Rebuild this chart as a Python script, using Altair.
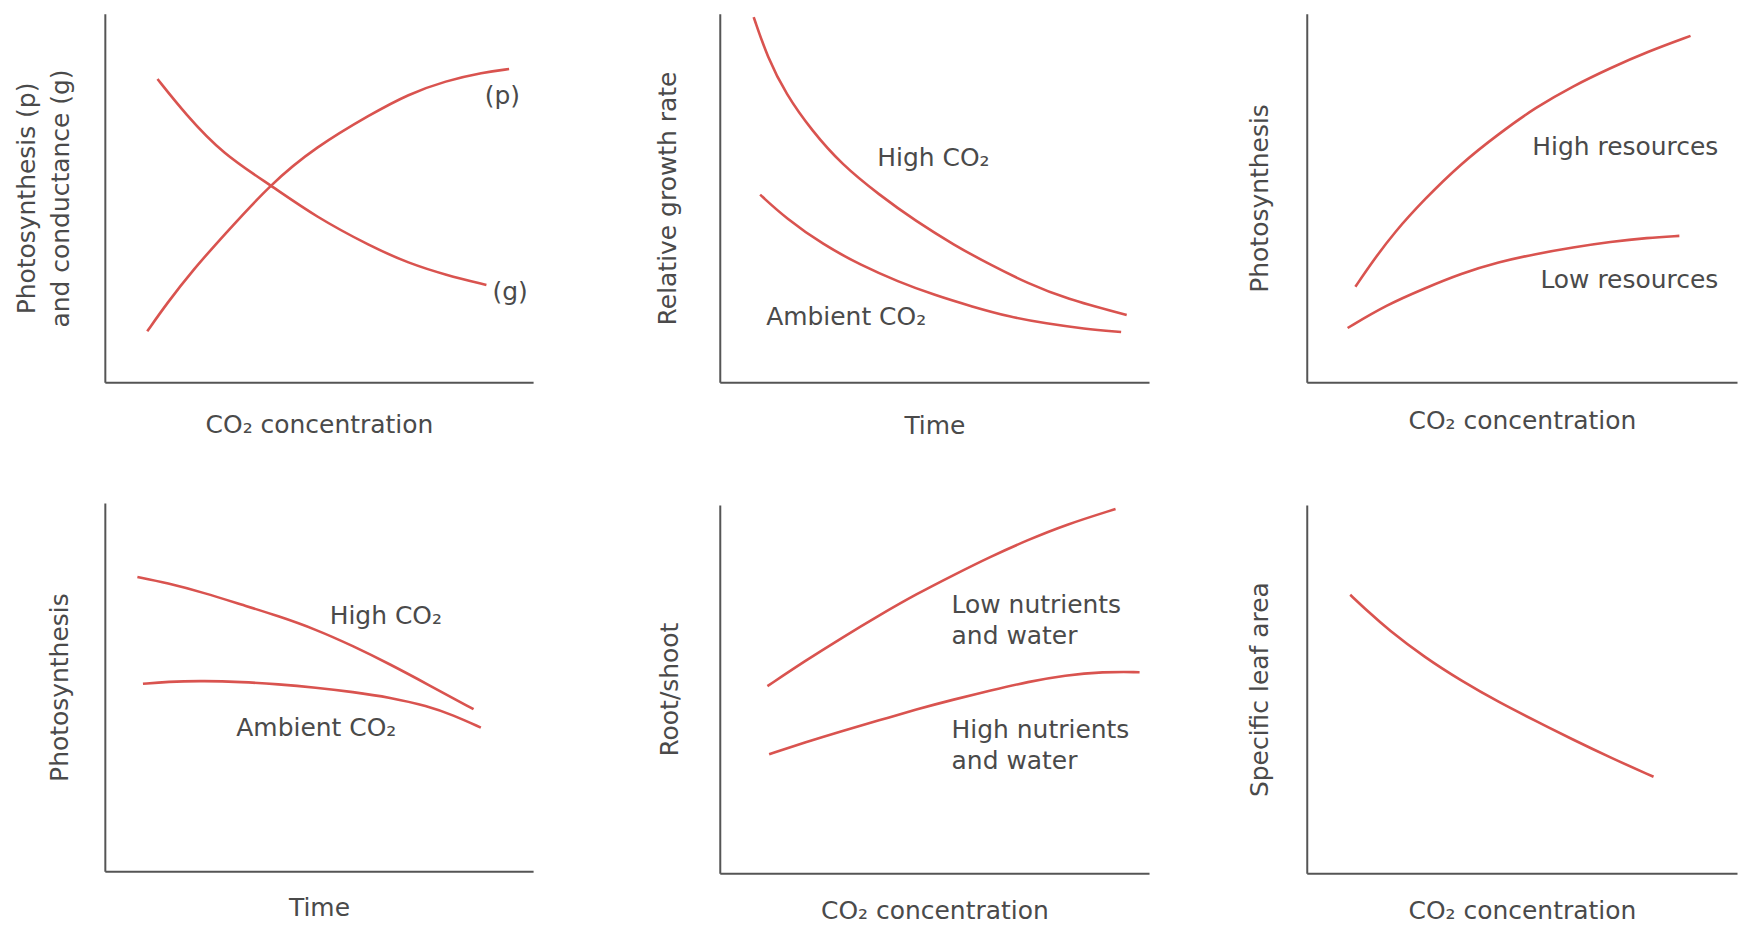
import altair as alt
import pandas as pd

RED = "#d9534f"
TEXT = "#4a4a4a"
AXIS = "#555555"
FONT = "DejaVu Sans"
FS = 25

# ---------------- data (normalised 0..1 within each panel) ----------------
# Panel 1: photosynthesis (p) and conductance (g) vs CO2
p1_p_x = [0.099, 0.145, 0.206, 0.275, 0.388, 0.492, 0.622, 0.709, 0.796, 0.883, 0.944]
p1_p_y = [0.138, 0.214, 0.305, 0.395, 0.539, 0.638, 0.728, 0.782, 0.818, 0.841, 0.850]
p1_g_x = [0.123, 0.188, 0.275, 0.388, 0.492, 0.622, 0.709, 0.796, 0.891]
p1_g_y = [0.823, 0.728, 0.620, 0.534, 0.449, 0.368, 0.323, 0.291, 0.264]

# Panel 2: relative growth rate vs time
p2_hi_x = [0.079, 0.111, 0.154, 0.215, 0.284, 0.371, 0.458, 0.545, 0.631, 0.718, 0.805, 0.948]
p2_hi_y = [0.991, 0.882, 0.782, 0.682, 0.591, 0.509, 0.436, 0.373, 0.318, 0.268, 0.227, 0.182]
p2_am_x = [0.094, 0.154, 0.241, 0.328, 0.415, 0.501, 0.588, 0.675, 0.761, 0.848, 0.935]
p2_am_y = [0.509, 0.445, 0.373, 0.318, 0.273, 0.236, 0.205, 0.177, 0.159, 0.145, 0.136]

# Panel 3: photosynthesis vs CO2 (resources)
p3_hi_x = [0.113, 0.152, 0.203, 0.273, 0.359, 0.446, 0.532, 0.619, 0.706, 0.792, 0.892]
p3_hi_y = [0.259, 0.326, 0.406, 0.496, 0.594, 0.674, 0.746, 0.804, 0.853, 0.897, 0.940]
p3_lo_x = [0.095, 0.186, 0.273, 0.359, 0.446, 0.532, 0.619, 0.706, 0.792, 0.866]
p3_lo_y = [0.147, 0.210, 0.254, 0.295, 0.326, 0.348, 0.366, 0.381, 0.392, 0.397]

# Panel 4: photosynthesis vs time
p4_hi_x = [0.076, 0.145, 0.232, 0.319, 0.405, 0.492, 0.579, 0.666, 0.753, 0.861]
p4_hi_y = [0.799, 0.783, 0.756, 0.724, 0.693, 0.657, 0.612, 0.562, 0.508, 0.440]
p4_am_x = [0.089, 0.145, 0.232, 0.319, 0.405, 0.492, 0.579, 0.666, 0.753, 0.813, 0.878]
p4_am_y = [0.509, 0.515, 0.517, 0.514, 0.508, 0.499, 0.487, 0.472, 0.449, 0.424, 0.390]

# Panel 5: root/shoot vs CO2
p5_lo_x = [0.111, 0.198, 0.284, 0.371, 0.458, 0.545, 0.631, 0.718, 0.805, 0.922]
p5_lo_y = [0.508, 0.576, 0.639, 0.700, 0.758, 0.810, 0.860, 0.905, 0.946, 0.989]
p5_hi_x = [0.115, 0.198, 0.284, 0.371, 0.458, 0.545, 0.631, 0.718, 0.805, 0.892, 0.978]
p5_hi_y = [0.323, 0.355, 0.386, 0.415, 0.445, 0.472, 0.496, 0.520, 0.538, 0.547, 0.546]

# Panel 6: specific leaf area vs CO2
p6_x = [0.101, 0.144, 0.188, 0.274, 0.360, 0.447, 0.533, 0.620, 0.706, 0.806]
p6_y = [0.756, 0.709, 0.663, 0.586, 0.522, 0.464, 0.413, 0.362, 0.314, 0.262]

# Curve labels: (x, y, text)
p1_labels = [(0.887, 0.777, "(p)"), (0.905, 0.246, "(g)")]
p2_labels = [(0.367, 0.609, "High CO₂"), (0.108, 0.177, "Ambient CO₂")]
p3_labels = [(0.524, 0.637, "High resources"), (0.543, 0.277, "Low resources")]
p4_labels = [(0.525, 0.693, "High CO₂"), (0.307, 0.390, "Ambient CO₂")]
p5_labels = [(0.540, 0.729, "Low nutrients\nand water"), (0.540, 0.388, "High nutrients\nand water")]
p6_labels = []

CO2 = "CO₂ concentration"


def series_df(pairs):
    rows = []
    for name, xs, ys in pairs:
        for i, (x, y) in enumerate(zip(xs, ys)):
            rows.append({"series": name, "x": x, "y": y, "i": i})
    return pd.DataFrame(rows)


def panel(pairs, labels, xtitle, ytitle, xpad, ypad, w=429, h=369):
    X = alt.X("x:Q", scale=alt.Scale(domain=[0, 1], nice=False, zero=False),
              axis=alt.Axis(title=xtitle, titlePadding=xpad, ticks=False, labels=False,
                            grid=False, domainColor=AXIS, domainWidth=2,
                            titleFont=FONT, titleFontSize=FS, titleFontWeight="normal",
                            titleColor=TEXT))
    Y = alt.Y("y:Q", scale=alt.Scale(domain=[0, 1], nice=False, zero=False),
              axis=alt.Axis(title=ytitle, titlePadding=ypad, ticks=False, labels=False,
                            grid=False, domainColor=AXIS, domainWidth=2,
                            titleFont=FONT, titleFontSize=FS, titleFontWeight="normal",
                            titleColor=TEXT, titleLineHeight=34))
    lines = alt.Chart(series_df(pairs)).mark_line(
        color=RED, strokeWidth=2.6, interpolate="basis"
    ).encode(x=X, y=Y, detail="series:N", order="i:Q")
    layers = [lines]
    if labels:
        ldf = pd.DataFrame([{"x": a, "y": b, "label": t} for a, b, t in labels])
        txt = alt.Chart(ldf).mark_text(
            align="left", baseline="middle", font=FONT, fontSize=FS, color=TEXT,
            lineBreak="\n", lineHeight=31
        ).encode(x=X, y=Y, text="label:N")
        layers.append(txt)
    return alt.layer(*layers).properties(width=w, height=h)


c1 = panel([("p", p1_p_x, p1_p_y), ("g", p1_g_x, p1_g_y)], p1_labels,
           CO2, ["Photosynthesis (p)", "and conductance (g)"], 30, 31)
c2 = panel([("hi", p2_hi_x, p2_hi_y), ("am", p2_am_x, p2_am_y)], p2_labels,
           "Time", "Relative growth rate", 31, 39, w=430)
c3 = panel([("hi", p3_hi_x, p3_hi_y), ("lo", p3_lo_x, p3_lo_y)], p3_labels,
           CO2, "Photosynthesis", 26, 34, w=431)
c4 = panel([("hi", p4_hi_x, p4_hi_y), ("am", p4_am_x, p4_am_y)], p4_labels,
           "Time", "Photosynthesis", 24, 32)
c5 = panel([("lo", p5_lo_x, p5_lo_y), ("hi", p5_hi_x, p5_hi_y)], p5_labels,
           CO2, "Root/shoot", 25, 37, w=430)
c6 = panel([("s", p6_x, p6_y)], p6_labels,
           CO2, "Specific leaf area", 25, 34, w=431)

col1 = alt.vconcat(c1, c4, spacing=66)
col2 = alt.vconcat(c2, c5, spacing=65)
col3 = alt.vconcat(c3, c6, spacing=72)

chart = alt.hconcat(alt.hconcat(col1, col2, spacing=123), col3, spacing=99).properties(
    padding={"left": 7, "top": 3, "right": 5, "bottom": 5},
    background="white",
).configure_view(stroke=None)

chart.save("out.html", embed_options={"renderer": "svg", "actions": False})
